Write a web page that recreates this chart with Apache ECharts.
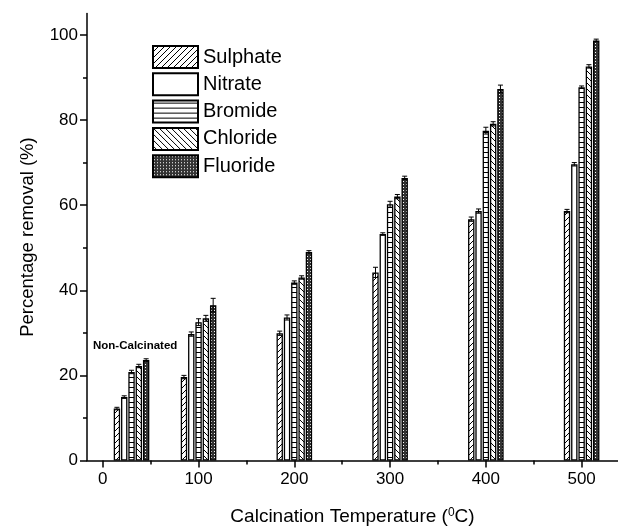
<!DOCTYPE html>
<html>
<head>
<meta charset="utf-8">
<script src="https://cdn.jsdelivr.net/npm/echarts@6/dist/echarts.min.js"></script>
<style>html,body{margin:0;padding:0;background:#fff}#c{width:618px;height:531px}</style>
</head>
<body>
<div id="c"></div>
<script>
// ---- data ----
const temps = [30, 100, 200, 300, 400, 500];
const seriesNames = ['Sulphate', 'Nitrate', 'Bromide', 'Chloride', 'Fluoride'];
const sulphate = [12.2, 19.6, 29.9, 44.2, 56.7, 58.6];
const nitrate  = [14.9, 29.7, 33.6, 53.2, 58.6, 69.6];
const bromide  = [20.8, 32.5, 41.8, 60.2, 77.5, 87.7];
const chloride = [22.2, 33.4, 43.0, 62.0, 79.1, 92.6];
const fluoride = [23.6, 36.5, 49.0, 66.4, 87.3, 98.7];
const sulphateErr = [0.3, 0.4, 0.5, 1.2, 0.5, 0.4];
const nitrateErr  = [0.3, 0.5, 0.6, 0.3, 0.5, 0.4];
const bromideErr  = [0.4, 0.8, 0.4, 0.7, 0.8, 0.3];
const chlorideErr = [0.4, 0.7, 0.4, 0.5, 0.5, 0.4];
const fluorideErr = [0.3, 1.6, 0.3, 0.4, 0.9, 0.3];
const xTickLabels = [0, 100, 200, 300, 400, 500];
const xMinorTicks = [50, 150, 250, 350, 450];
const yTickLabels = [0, 20, 40, 60, 80, 100];
const yMinorTicks = [10, 30, 50, 70, 90];

const values = [sulphate, nitrate, bromide, chloride, fluoride];
const errs = [sulphateErr, nitrateErr, bromideErr, chlorideErr, fluorideErr];

// ---- patterns ----
function pat(kind) {
  const c = document.createElement('canvas');
  let s = 6;
  if (kind === 'h') s = 5;
  if (kind === 'x') s = 3;
  c.width = s; c.height = s;
  const g = c.getContext('2d');
  g.fillStyle = '#fff'; g.fillRect(0, 0, s, s);
  g.strokeStyle = '#000'; g.lineWidth = 1;
  if (kind === 'f') { // "/"
    g.beginPath();
    g.moveTo(-1, s + 1); g.lineTo(s + 1, -1);
    g.moveTo(-1, 1); g.lineTo(1, -1);
    g.moveTo(s - 1, s + 1); g.lineTo(s + 1, s - 1);
    g.stroke();
  } else if (kind === 'b') { // "\"
    g.beginPath();
    g.moveTo(-1, -1); g.lineTo(s + 1, s + 1);
    g.moveTo(-1, s - 1); g.lineTo(1, s + 1);
    g.moveTo(s - 1, -1); g.lineTo(s + 1, 1);
    g.stroke();
  } else if (kind === 'h') {
    g.fillStyle = '#000'; g.fillRect(0, 2, s, 1);
  } else if (kind === 'x') {
    g.fillStyle = '#333'; g.fillRect(0, 0, s, s);
    g.fillStyle = '#fff'; g.fillRect(1, 1, 1, 1);
  }
  if (kind === 'w') return '#fff';
  return { image: c, repeat: 'repeat' };
}
const fills = [pat('f'), pat('w'), pat('h'), pat('b'), pat('x')];

const BW = 6.4, GAP = 0.9;
const pitch = BW + GAP;

const series = [];
seriesNames.forEach((name, i) => {
  series.push({
    name: name,
    type: 'bar',
    xAxisIndex: 0, yAxisIndex: 0,
    barWidth: BW,
    barGap: (GAP / BW * 100) + '%',
    data: temps.map((t, j) => [t, values[i][j]]),
    itemStyle: { color: fills[i], borderColor: '#000', borderWidth: 1.3 },
    emphasis: { disabled: true },
    animation: false
  });
});
seriesNames.forEach((name, i) => {
  const off = (i - 2) * pitch;
  series.push({
    type: 'custom',
    xAxisIndex: 0, yAxisIndex: 0,
    z: 5,
    silent: true,
    animation: false,
    data: temps.map((t, j) => [t, values[i][j], errs[i][j]]),
    renderItem: function (params, api) {
      const x = api.value(0), y = api.value(1), e = api.value(2);
      const top = api.coord([x, y + e]);
      const bot = api.coord([x, y - e]);
      const cx = top[0] + off;
      const hw = 2.5;
      return {
        type: 'group',
        children: [
          { type: 'line', shape: { x1: cx, y1: top[1], x2: cx, y2: bot[1] }, style: { stroke: '#000', lineWidth: 1 } },
          { type: 'line', shape: { x1: cx - hw, y1: top[1], x2: cx + hw, y2: top[1] }, style: { stroke: '#000', lineWidth: 1 } },
          { type: 'line', shape: { x1: cx - hw, y1: bot[1], x2: cx + hw, y2: bot[1] }, style: { stroke: '#000', lineWidth: 1 } }
        ]
      };
    }
  });
});

const FONT = 'Liberation Sans, Arial, sans-serif';
const chart = echarts.init(document.getElementById('c'), null, { renderer: 'canvas' });
chart.setOption({
  animation: false,
  backgroundColor: '#fff',
  grid: { left: 87, right: 0, top: 13.6, bottom: 69, containLabel: false },
  legend: {
    data: seriesNames,
    orient: 'vertical',
    left: 147, top: 40,
    icon: 'rect',
    itemWidth: 45, itemHeight: 22, itemGap: 3.3,
    textStyle: { fontSize: 20, color: '#000', fontFamily: FONT },
    selectedMode: false
  },
  xAxis: [{
    type: 'value',
    min: -16.5, max: 538,
    name: '{t|Calcination Temperature (}{s|0}{t|C)}',
    nameLocation: 'middle', nameGap: 46,
    nameTextStyle: {
      rich: {
        t: { fontSize: 19, color: '#000', fontFamily: FONT },
        s: { fontSize: 12, color: '#000', fontFamily: FONT, verticalAlign: 'top', padding: [0, 0, 8, 0] }
      }
    },
    axisLine: { show: true, onZero: false, lineStyle: { color: '#000', width: 1.5 } },
    axisTick: { show: true, customValues: xTickLabels, length: 7, lineStyle: { color: '#000', width: 1.5 } },
    axisLabel: { customValues: xTickLabels, fontSize: 17, color: '#000', fontFamily: FONT, margin: 10 },
    splitLine: { show: false }
  }, {
    type: 'value',
    min: -16.5, max: 538,
    position: 'bottom',
    axisLine: { show: false, onZero: false },
    axisTick: { show: true, customValues: xMinorTicks, length: 4, lineStyle: { color: '#000', width: 1.5 } },
    axisLabel: { show: false, customValues: xMinorTicks },
    splitLine: { show: false }
  }],
  yAxis: [{
    type: 'value',
    min: 0, max: 105,
    name: 'Percentage removal (%)',
    nameLocation: 'middle', nameGap: 50,
    nameTextStyle: { fontSize: 18.5, color: '#000', fontFamily: FONT },
    axisLine: { show: true, onZero: false, lineStyle: { color: '#000', width: 1.5 } },
    axisTick: { show: true, customValues: yTickLabels, length: 7, lineStyle: { color: '#000', width: 1.5 } },
    axisLabel: { customValues: yTickLabels, fontSize: 17, color: '#000', fontFamily: FONT, margin: 9 },
    splitLine: { show: false }
  }, {
    type: 'value',
    min: 0, max: 105,
    position: 'left',
    axisLine: { show: false, onZero: false },
    axisTick: { show: true, customValues: yMinorTicks, length: 4, lineStyle: { color: '#000', width: 1.5 } },
    axisLabel: { show: false, customValues: yMinorTicks },
    splitLine: { show: false }
  }],
  graphic: [{
    type: 'text',
    left: 93, top: 340,
    style: { text: 'Non-Calcinated', font: 'bold 11.5px ' + FONT, fill: '#000' }
  }],
  series: series
});
</script>
</body>
</html>
